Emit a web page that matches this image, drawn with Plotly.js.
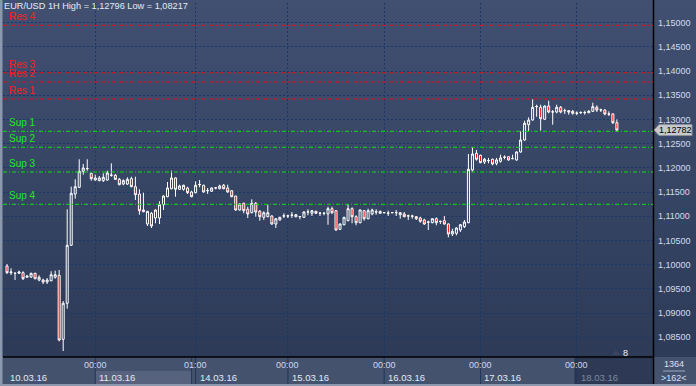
<!DOCTYPE html>
<html><head><meta charset="utf-8">
<script src="https://cdn.plot.ly/plotly-3.0.1.min.js"></script>
<style>
html,body{margin:0;padding:0;background:#2f3d5a;overflow:hidden;}
#chart{width:696px;height:386px;background:linear-gradient(to bottom,#415071 0%,#2b3956 100%);}
</style></head><body><div id="chart"></div>
<script>
// ---- data (EUR/USD 1H) ----
const openP=[1.09973,1.09835,1.09822,1.09822,1.09835,1.09740,1.09746,1.09822,1.09684,1.09684,
1.09643,1.09669,1.09740,1.09781,1.08459,1.09203,1.10401,1.11461,1.11599,1.11930,
1.11984,1.11888,1.11792,1.11736,1.11736,1.11750,1.11847,1.11847,1.11764,1.11667,
1.11667,1.11778,1.11612,1.11461,1.11095,1.10841,1.11062,1.10965,1.10965,1.11240,
1.11405,1.11570,1.11792,1.11558,1.11558,1.11585,1.11502,1.11488,1.11653,1.11641,
1.11529,1.11517,1.11585,1.11570,1.11641,1.11585,1.11529,1.11419,1.11130,1.11269,
1.11145,1.11074,1.11269,1.11103,1.10979,1.10992,1.11006,1.10841,1.10924,1.11006,
1.11006,1.11021,1.10992,1.10992,1.10979,1.11089,1.11062,1.11103,1.11062,1.11062,
1.11048,1.11157,1.11116,1.10731,1.10826,1.10909,1.11157,1.10992,1.10868,1.11116,
1.10950,1.11048,1.11089,1.11062,1.11074,1.11062,1.11074,1.11074,1.11033,1.11048,
1.11006,1.11006,1.10992,1.10965,1.10924,1.10882,1.10868,1.10950,1.10897,1.10909,
1.10841,1.10634,1.10649,1.10717,1.10785,1.10868,1.11957,1.12302,1.12260,1.12123,
1.12149,1.12178,1.12095,1.12136,1.12219,1.12232,1.12190,1.12164,1.12329,1.12576,
1.12893,1.12990,1.13265,1.13252,1.13004,1.13279,1.13155,1.13155,1.13252,1.13182,
1.13182,1.13169,1.13128,1.13141,1.13141,1.13141,1.13169,1.13252,1.13196,1.13196,
1.13114,1.13114,1.12934];
const highP=[1.10014,1.09926,1.09835,1.09876,1.09864,1.09781,1.09835,1.09835,1.09781,1.09711,
1.09725,1.09864,1.09876,1.09891,1.09250,1.11145,1.11612,1.11765,1.12178,1.12081,
1.12178,1.11901,1.11860,1.11833,1.11888,1.11942,1.12095,1.11874,1.11792,1.11764,
1.11806,1.11818,1.11818,1.11558,1.11488,1.11110,1.11089,1.11145,1.11310,1.11434,
1.11709,1.11942,1.11806,1.11653,1.11653,1.11612,1.11529,1.11723,1.11750,1.11653,
1.11585,1.11599,1.11606,1.11653,1.11667,1.11653,1.11543,1.11419,1.11269,1.11281,
1.11199,1.11351,1.11295,1.11130,1.11103,1.11240,1.11021,1.10965,1.10992,1.11062,
1.11033,1.11089,1.11048,1.11006,1.11103,1.11145,1.11130,1.11116,1.11089,1.11074,
1.11199,1.11199,1.11130,1.10855,1.10992,1.11254,1.11186,1.11021,1.11145,1.11130,
1.11157,1.11157,1.11145,1.11116,1.11089,1.11116,1.11089,1.11130,1.11089,1.11089,
1.11033,1.11033,1.11006,1.10992,1.10950,1.10909,1.10959,1.10979,1.10909,1.11006,
1.10855,1.10744,1.10773,1.10841,1.10924,1.12287,1.12426,1.12370,1.12273,1.12206,
1.12206,1.12190,1.12206,1.12273,1.12260,1.12246,1.12273,1.12343,1.12756,1.12975,
1.13045,1.13417,1.13306,1.13306,1.13293,1.13388,1.13196,1.13306,1.13279,1.13223,
1.13196,1.13196,1.13169,1.13169,1.13182,1.13196,1.13347,1.13293,1.13223,1.13211,
1.13169,1.13128,1.13004];
const lowP=[1.09808,1.09787,1.09684,1.09808,1.09684,1.09725,1.09725,1.09698,1.09657,1.09601,
1.09601,1.09657,1.09711,1.08417,1.08217,1.09091,1.10387,1.11364,1.11585,1.11860,
1.11942,1.11736,1.11736,1.11723,1.11709,1.11736,1.11818,1.11750,1.11641,1.11641,
1.11647,1.11599,1.11337,1.11033,1.11083,1.10800,1.10758,1.10855,1.10841,1.11130,
1.11393,1.11558,1.11405,1.11543,1.11529,1.11461,1.11393,1.11475,1.11599,1.11488,
1.11461,1.11502,1.11558,1.11558,1.11558,1.11488,1.11393,1.11116,1.11116,1.11062,
1.10965,1.11062,1.10992,1.10909,1.10924,1.10979,1.10826,1.10758,1.10909,1.10965,
1.10965,1.10965,1.10979,1.10938,1.10965,1.11021,1.11006,1.11048,1.11006,1.11021,
1.10826,1.11048,1.10702,1.10717,1.10814,1.10897,1.10855,1.10814,1.10855,1.10909,
1.10938,1.11021,1.11033,1.11048,1.11062,1.11006,1.11062,1.11006,1.10950,1.10979,
1.10924,1.10950,1.10924,1.10868,1.10826,1.10717,1.10855,1.10814,1.10841,1.10826,
1.10566,1.10593,1.10607,1.10676,1.10758,1.10855,1.11926,1.12149,1.12095,1.12081,
1.12095,1.12054,1.12054,1.12108,1.12178,1.12149,1.12178,1.12149,1.12314,1.12562,
1.12756,1.12975,1.13058,1.12769,1.12990,1.13128,1.12893,1.13128,1.13128,1.13114,
1.13099,1.13099,1.13087,1.13114,1.13099,1.13128,1.13155,1.13155,1.13155,1.13087,
1.13072,1.12907,1.12756];
const closeP=[1.09835,1.09849,1.09824,1.09849,1.09711,1.09767,1.09822,1.09711,1.09740,1.09643,
1.09684,1.09793,1.09793,1.08444,1.09203,1.10401,1.11475,1.11612,1.11930,1.11998,
1.11986,1.11778,1.11750,1.11792,1.11806,1.11895,1.11849,1.11764,1.11653,1.11736,
1.11764,1.11612,1.11446,1.11116,1.11130,1.11103,1.10800,1.11130,1.11240,1.11419,
1.11585,1.11792,1.11558,1.11626,1.11641,1.11488,1.11405,1.11641,1.11657,1.11502,
1.11532,1.11585,1.11588,1.11626,1.11570,1.11502,1.11405,1.11130,1.11254,1.11116,
1.11048,1.11269,1.11089,1.10992,1.11074,1.11074,1.10841,1.10950,1.10979,1.11009,
1.11009,1.11024,1.11033,1.10995,1.11089,1.11092,1.11116,1.11062,1.11065,1.11065,
1.11157,1.11074,1.10717,1.10841,1.10979,1.11157,1.10992,1.10868,1.11130,1.10950,
1.11116,1.11130,1.11092,1.11103,1.11077,1.11065,1.11077,1.11077,1.11074,1.10992,
1.11009,1.11003,1.10950,1.10897,1.10841,1.10879,1.10950,1.10868,1.10894,1.10841,
1.10634,1.10690,1.10758,1.10826,1.10882,1.11971,1.12287,1.12178,1.12108,1.12178,
1.12152,1.12081,1.12164,1.12206,1.12222,1.12164,1.12193,1.12329,1.12576,1.12922,
1.12990,1.13252,1.13268,1.13017,1.13279,1.13155,1.13158,1.13252,1.13155,1.13185,
1.13155,1.13128,1.13131,1.13144,1.13144,1.13169,1.13265,1.13196,1.13199,1.13114,
1.13111,1.12934,1.12782];

const resLabels=['Res 1','Res 2','Res 3','Res 4'];
const resLevels=[1.13424,1.13775,1.13967,1.14946];
const supLabels=['Sup 1','Sup 2','Sup 3','Sup 4'];
const supLevels=[1.12756,1.12426,1.11915,1.11248];

const yTickVals=[1.085,1.09,1.095,1.10,1.105,1.11,1.115,1.12,1.125,1.13,1.135,1.14,1.145,1.15];
const dayStartIdx=[22,47,70,94,118,142];
const sepTimes=['00:00','01:00','00:00','00:00','00:00','00:00'];
const dayLabels=['10.03.16','11.03.16','14.03.16','15.03.16','16.03.16','17.03.16','18.03.16'];
const titleText='EUR/USD 1H High = 1,12796 Low = 1,08217';
const barsTotal='1364', barsVisible='>162<', shiftMark='8';

// ---- geometry helpers (layout only) ----
const PL=3, PR=653, PT=3, PB=357;
const px=x=>(x-PL)/(PR-PL);
const py=y=>(PB-y)/(PB-PT);
const fmt=v=>v.toFixed(5).replace('.',',');

const idx=openP.map((_,i)=>i);
const lastClose=closeP[closeP.length-1];

const gridCol='#1b3668';
const shapes=[];
const ann=[];

// bottom strip + corner
shapes.push({type:'rect',xref:'paper',yref:'paper',x0:px(0),x1:px(696),y0:py(357),y1:py(386),fillcolor:'#45526e',line:{width:0},layer:'below'});
// lighter cell for 11.03
shapes.push({type:'rect',xref:'x',yref:'paper',x0:dayStartIdx[0],x1:dayStartIdx[1]-1,y0:py(371),y1:py(385),fillcolor:'#56627e',line:{width:0},layer:'below'});
// 18.03 dark overlay
shapes.push({type:'rect',xref:'paper',yref:'paper',x0:px(575),x1:px(652),y0:py(358),y1:py(384),fillcolor:'#2e3a55',line:{color:'#243049',width:1},layer:'below'});
// strip separators
dayStartIdx.forEach(d=>{
  shapes.push({type:'line',xref:'x',yref:'paper',x0:d,x1:d,y0:py(358),y1:py(386),line:{color:'#24345a',width:1}});
});
shapes.push({type:'line',xref:'x',yref:'paper',x0:dayStartIdx[1]-1,x1:dayStartIdx[1]-1,y0:py(358),y1:py(386),line:{color:'#24345a',width:1}});
// frame lines
shapes.push({type:'line',xref:'paper',yref:'paper',x0:px(3),x1:px(653),y0:py(357),y1:py(357),line:{color:'#000',width:1.5}});
shapes.push({type:'line',xref:'paper',yref:'paper',x0:px(653.5),x1:px(653.5),y0:py(0),y1:py(386),line:{color:'#000',width:1.5}});
shapes.push({type:'rect',xref:'paper',yref:'paper',x0:px(0),x1:px(2.5),y0:py(0),y1:py(386),fillcolor:'#8c98ae',line:{width:0}});
shapes.push({type:'rect',xref:'paper',yref:'paper',x0:px(0),x1:px(696),y0:py(384),y1:py(386),fillcolor:'#8c98ae',line:{width:0}});
// corner divider
shapes.push({type:'line',xref:'paper',yref:'paper',x0:px(663),x1:px(685),y0:py(371),y1:py(371),line:{color:'#9aa8c0',width:1}});

// support / resistance lines
resLevels.forEach((v,i)=>{
  shapes.push({type:'line',xref:'paper',yref:'y',x0:0,x1:1,y0:v,y1:v,line:{color:'#e01414',width:1,dash:'4px,2px,1px,2px'}});
  ann.push({xref:'paper',yref:'y',x:0,y:v,xanchor:'left',yanchor:'bottom',xshift:4,yshift:1,text:resLabels[i],showarrow:false,font:{family:'Liberation Sans, Arial, sans-serif',size:10,color:'#ff1a1a'}});
});
supLevels.forEach((v,i)=>{
  shapes.push({type:'line',xref:'paper',yref:'y',x0:0,x1:1,y0:v,y1:v,line:{color:'#10e010',width:1,dash:'4px,2px,1px,2px'}});
  ann.push({xref:'paper',yref:'y',x:0,y:v,xanchor:'left',yanchor:'bottom',xshift:4,yshift:1,text:supLabels[i],showarrow:false,font:{family:'Liberation Sans, Arial, sans-serif',size:10,color:'#22e622'}});
});

// current price tag
shapes.push({type:'path',xref:'paper',yref:'y',xsizemode:'pixel',ysizemode:'pixel',xanchor:1,yanchor:lastClose,
  path:'M 1 0 L 6 5.5 L 39 5.5 L 39 -5.5 L 6 -5.5 Z',fillcolor:'#c6c9ce',line:{color:'#8a8f99',width:1}});
ann.push({xref:'paper',yref:'y',x:px(675),y:lastClose,xanchor:'center',yanchor:'middle',text:fmt(lastClose),showarrow:false,
  font:{family:'Liberation Sans, Arial, sans-serif',size:9,color:'#000'}});

// title
ann.push({xref:'paper',yref:'paper',x:px(3),y:py(0),xanchor:'left',yanchor:'top',text:titleText,showarrow:false,borderpad:0,
  font:{family:'Liberation Sans, Arial, sans-serif',size:9.2,color:'#e6ebf2'}});

// time labels & dates
dayStartIdx.forEach((d,i)=>{
  ann.push({xref:'x',yref:'paper',x:d,y:py(365),xanchor:'center',yanchor:'middle',text:sepTimes[i],showarrow:false,borderpad:0,
    font:{family:'Liberation Sans, Arial, sans-serif',size:9,color:'#c9d8f2'}});
  ann.push({xref:'x',yref:'paper',x:d,y:py(377),xanchor:'left',yanchor:'middle',xshift:3,text:dayLabels[i+1],showarrow:false,borderpad:0,
    font:{family:'Liberation Sans, Arial, sans-serif',size:9.5,color:(i===dayStartIdx.length-1?'#7e899e':'#e4eaf4')}});
});
ann.push({xref:'paper',yref:'paper',x:px(9),y:py(377),xanchor:'left',yanchor:'middle',text:dayLabels[0],showarrow:false,borderpad:0,
  font:{family:'Liberation Sans, Arial, sans-serif',size:9.5,color:'#e4eaf4'}});

// corner texts
ann.push({xref:'paper',yref:'paper',x:px(674),y:py(364),xanchor:'center',yanchor:'middle',text:barsTotal,showarrow:false,borderpad:0,
  font:{family:'Liberation Sans, Arial, sans-serif',size:9,color:'#d8e0ee'}});
ann.push({xref:'paper',yref:'paper',x:px(674),y:py(377.5),xanchor:'center',yanchor:'middle',text:barsVisible,showarrow:false,borderpad:0,
  font:{family:'Liberation Sans, Arial, sans-serif',size:9,color:'#d8e0ee'}});
// shift marker
shapes.push({type:'path',xref:'paper',yref:'paper',path:`M ${px(612)} ${py(355)} L ${px(620)} ${py(355)} L ${px(616)} ${py(350)} Z`,fillcolor:'#3a4560',line:{width:0}});
ann.push({xref:'paper',yref:'paper',x:px(625),y:py(352.5),xanchor:'center',yanchor:'middle',text:shiftMark,showarrow:false,borderpad:0,
  font:{family:'Liberation Sans, Arial, sans-serif',size:9,color:'#eef2f8'}});

const trace={type:'candlestick',x:idx,open:openP,high:highP,low:lowP,close:closeP,
  increasing:{line:{color:'#ffffff',width:1},fillcolor:'rgba(0,0,0,0)'},
  decreasing:{line:{color:'#ffffff',width:1},fillcolor:'#ff0000'},
  whiskerwidth:0,hoverinfo:'skip',showlegend:false};

const layout={
  width:696,height:386,
  margin:{l:PL,r:696-PR,t:PT,b:386-PB,pad:0},
  paper_bgcolor:'rgba(0,0,0,0)',plot_bgcolor:'rgba(0,0,0,0)',
  showlegend:false,hovermode:false,boxgap:0.28,
  xaxis:{range:[-1,161],tickvals:dayStartIdx,showticklabels:false,ticks:'',showgrid:true,gridcolor:gridCol,griddash:'2px,2px',gridwidth:1,
    zeroline:false,showline:false,rangeslider:{visible:false},fixedrange:true},
  yaxis:{side:'right',range:[1.08093,1.15407],tickvals:yTickVals,ticktext:yTickVals.map(fmt),ticks:'',ticklabelstandoff:4,
    tickfont:{family:'Liberation Sans, Arial, sans-serif',size:9,color:'#d2ddef'},
    showgrid:true,gridcolor:gridCol,griddash:'2px,2px',gridwidth:1,zeroline:false,showline:false,fixedrange:true},
  shapes:shapes,annotations:ann
};
Plotly.newPlot('chart',[trace],layout,{staticPlot:true,displayModeBar:false});
</script></body></html>
